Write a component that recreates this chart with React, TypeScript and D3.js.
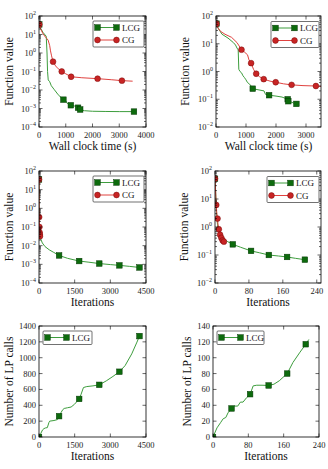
import { useEffect, useRef } from 'react'
import * as d3 from 'd3'

type Pt = [number, number]

// Function value against wall clock time, first problem
const lcgTimeA: Pt[] = [
  [10, 35], [60, 22], [150, 13], [270, 8], [300, 1], [320, 0.1], [345, 0.035], [400, 0.028],
  [460, 0.017], [560, 0.011], [700, 0.006], [800, 0.0042], [912, 0.003], [1000, 0.0026],
  [1050, 0.0019], [1190, 0.0015], [1300, 0.0014], [1380, 0.0013], [1460, 0.0011],
  [1500, 0.00095], [1540, 0.00088], [1700, 0.00076], [2000, 0.00071], [2500, 0.00069],
  [3000, 0.00068], [3550, 0.00068]
]
const lcgTimeAMarks: Pt[] = [[10, 35], [912, 0.003], [1190, 0.0015], [1460, 0.0011], [1540, 0.00088], [3550, 0.00068]]
const cgTimeA: Pt[] = [
  [10, 35], [60, 20], [150, 11], [250, 7], [340, 5], [400, 2.5], [430, 1.3], [470, 0.7],
  [525, 0.34], [620, 0.2], [720, 0.14], [850, 0.1], [1000, 0.075], [1200, 0.052],
  [1600, 0.046], [2190, 0.041], [2700, 0.036], [3100, 0.032], [3500, 0.03]
]
const cgTimeAMarks: Pt[] = [[10, 35], [525, 0.34], [850, 0.1], [1200, 0.052], [2190, 0.041], [3100, 0.032]]

// Function value against wall clock time, second problem
const lcgTimeB: Pt[] = [
  [15, 53], [80, 35], [200, 22], [400, 16], [580, 11], [650, 9], [700, 7], [740, 6],
  [760, 1.2], [800, 1.0], [850, 0.9], [900, 0.7], [950, 0.6], [1000, 0.5], [1050, 0.4],
  [1120, 0.35], [1170, 0.3], [1225, 0.24], [1400, 0.22], [1600, 0.2], [1650, 0.15],
  [1770, 0.14], [2000, 0.13], [2200, 0.12], [2390, 0.1], [2410, 0.085], [2500, 0.08],
  [2600, 0.072], [2680, 0.068]
]
const lcgTimeBMarks: Pt[] = [[15, 53], [1225, 0.24], [1770, 0.14], [2390, 0.1], [2410, 0.085], [2680, 0.068]]
const cgTimeB: Pt[] = [
  [15, 53], [60, 38], [150, 28], [300, 22], [520, 17], [700, 11], [850, 6.1], [950, 5],
  [1050, 4], [1100, 2.6], [1170, 2.0], [1250, 1.2], [1340, 0.83], [1450, 0.65],
  [1590, 0.53], [1800, 0.45], [1990, 0.41], [2250, 0.36], [2520, 0.33], [2900, 0.31],
  [3330, 0.3], [3700, 0.28]
]
const cgTimeBMarks: Pt[] = [[15, 53], [850, 6.1], [1170, 2.0], [1340, 0.83], [1590, 0.53], [1990, 0.41], [2520, 0.33], [3330, 0.3]]

// Function value against iterations, first problem
const lcgIterA: Pt[] = [
  [0, 35], [3, 5], [6, 0.3], [10, 0.06], [20, 0.035], [60, 0.025], [140, 0.014],
  [250, 0.009], [430, 0.006], [600, 0.0045], [845, 0.003], [1200, 0.0021], [1690, 0.0015],
  [2100, 0.0013], [2535, 0.0011], [3000, 0.00097], [3380, 0.00088], [3800, 0.00078],
  [4225, 0.00068]
]
const lcgIterAMarks: Pt[] = [[0, 35], [845, 0.003], [1690, 0.0015], [2535, 0.0011], [3380, 0.00088], [4225, 0.00068]]
const cgIterA: Pt[] = [[0, 35], [8, 0.34], [16, 0.1], [24, 0.052], [32, 0.041], [40, 0.032]]

// Function value against iterations, second problem
const lcgIterB: Pt[] = [
  [0, 53], [1, 30], [2, 12], [3, 5], [4, 2.5], [6, 1.2], [8, 0.85], [10, 0.65], [13, 0.52],
  [17, 0.42], [22, 0.35], [30, 0.3], [42, 0.24], [60, 0.19], [85, 0.14], [105, 0.12],
  [127, 0.1], [150, 0.092], [170, 0.085], [190, 0.076], [212, 0.068]
]
const lcgIterBMarks: Pt[] = [[0, 53], [42, 0.24], [85, 0.14], [127, 0.1], [170, 0.085], [212, 0.068]]
const cgIterB: Pt[] = [
  [0, 53], [1, 25], [2, 12], [3, 6.1], [4, 3.5], [5, 2.5], [6, 2.0], [7, 1.3], [9, 0.83],
  [12, 0.53], [15, 0.41], [18, 0.33], [21, 0.3], [23, 0.28]
]
const cgIterBMarks: Pt[] = [[0, 53], [3, 6.1], [6, 2.0], [9, 0.83], [12, 0.53], [15, 0.41], [18, 0.33], [21, 0.3]]

// LP oracle calls against iterations
const lpCallsA: Pt[] = [
  [0, 0], [70, 42], [150, 90], [210, 106], [280, 115], [350, 118], [420, 185], [450, 200],
  [630, 208], [780, 220], [845, 263], [920, 305], [1000, 345], [1060, 360], [1200, 369],
  [1350, 378], [1490, 412], [1690, 480], [1770, 539], [1870, 624], [2010, 636],
  [2270, 645], [2535, 658], [2830, 708], [3110, 764], [3380, 823], [3620, 900],
  [3900, 1048], [4120, 1197], [4225, 1273], [4270, 1300]
]
const lpCallsAMarks: Pt[] = [[0, 0], [845, 263], [1690, 480], [2535, 658], [3380, 823], [4225, 1273]]
const lpCallsB: Pt[] = [
  [0, 0], [9, 11.5], [17, 18], [23, 23], [29, 24.6], [34, 30.5], [42, 36], [48, 39], [56, 39],
  [62, 44], [68, 44], [76, 49.6], [84, 54], [91, 64.5], [99, 65.3], [111, 65.3], [126, 65],
  [138, 66.6], [150, 70.9], [162, 77], [168, 80], [181, 94], [197, 107], [210, 117], [217, 123]
]
const lpCallsBMarks: Pt[] = [[0, 0], [42, 36], [84, 54], [126, 65], [168, 80], [210, 117]]

const timeTicksA = [0, 1000, 2000, 3000, 4000]
const timeTicksB = [0, 1000, 2000, 3000]
const iterTicksA = [0, 1500, 3000, 4500]
const iterTicksB = [0, 80, 160, 240]
const lpTicksA = [0, 200, 400, 600, 800, 1000, 1200, 1400]
const lpTicksB = [0, 20, 40, 60, 80, 100, 120, 140]

const FONT = '"Liberation Serif", "DejaVu Serif", serif'
const GREEN = { line: '#3d9d3d', fill: '#0d6b0d', edge: '#063806', shape: 'square' as const }
const RED = { line: '#e0423f', fill: '#c82424', edge: '#7a0b0b', shape: 'circle' as const }

type Style = typeof GREEN | typeof RED
interface Series { name: string; line: Pt[]; marks: Pt[]; style: Style }
interface Panel {
  id: string
  box: [number, number, number, number] // left, right, top, bottom
  xDomain: [number, number]
  xTicks: number[]
  yDomain: [number, number]
  yLog: boolean
  yTicks: number[]
  xLabel: string
  yLabel: string
  yLabelX: number
  legend: [number, number, number] // x, y, width
  series: Series[]
}

const panels: Panel[] = [
  {
    id: 'a', box: [39, 146, 16, 127], xDomain: [0, 4000], xTicks: timeTicksA,
    yDomain: [1e-4, 1e2], yLog: true, yTicks: [-4, -3, -2, -1, 0, 1, 2],
    xLabel: 'Wall clock time (s)', yLabel: 'Function value', yLabelX: 12.5, legend: [93, 21, 51],
    series: [
      { name: 'LCG', line: lcgTimeA, marks: lcgTimeAMarks, style: GREEN },
      { name: 'CG', line: cgTimeA, marks: cgTimeAMarks, style: RED }
    ]
  },
  {
    id: 'b', box: [216, 321, 16, 127], xDomain: [0, 3500], xTicks: timeTicksB,
    yDomain: [1e-2, 1e2], yLog: true, yTicks: [-2, -1, 0, 1, 2],
    xLabel: 'Wall clock time (s)', yLabel: 'Function value', yLabelX: 189, legend: [271, 21.5, 48],
    series: [
      { name: 'LCG', line: lcgTimeB, marks: lcgTimeBMarks, style: GREEN },
      { name: 'CG', line: cgTimeB, marks: cgTimeBMarks, style: RED }
    ]
  },
  {
    id: 'c', box: [39, 146, 171, 283], xDomain: [0, 4500], xTicks: iterTicksA,
    yDomain: [1e-4, 1e2], yLog: true, yTicks: [-4, -3, -2, -1, 0, 1, 2],
    xLabel: 'Iterations', yLabel: 'Function value', yLabelX: 12.5, legend: [93, 176, 51],
    series: [
      { name: 'LCG', line: lcgIterA, marks: lcgIterAMarks, style: GREEN },
      { name: 'CG', line: cgIterA, marks: cgIterA, style: RED }
    ]
  },
  {
    id: 'd', box: [215, 321, 171, 283], xDomain: [0, 250], xTicks: iterTicksB,
    yDomain: [1e-2, 1e2], yLog: true, yTicks: [-2, -1, 0, 1, 2],
    xLabel: 'Iterations', yLabel: 'Function value', yLabelX: 187.5, legend: [267, 176.5, 52],
    series: [
      { name: 'LCG', line: lcgIterB, marks: lcgIterBMarks, style: GREEN },
      { name: 'CG', line: cgIterB, marks: cgIterBMarks, style: RED }
    ]
  },
  {
    id: 'e', box: [39, 146, 326, 437], xDomain: [0, 4500], xTicks: iterTicksA,
    yDomain: [0, 1400], yLog: false, yTicks: lpTicksA,
    xLabel: 'Iterations', yLabel: 'Number of LP calls', yLabelX: 12.5, legend: [43, 331, 49],
    series: [{ name: 'LCG', line: lpCallsA, marks: lpCallsAMarks, style: GREEN }]
  },
  {
    id: 'f', box: [213, 319, 326, 437], xDomain: [0, 240], xTicks: iterTicksB,
    yDomain: [0, 140], yLog: false, yTicks: lpTicksB,
    xLabel: 'Iterations', yLabel: 'Number of LP calls', yLabelX: 190.5, legend: [217, 331, 47],
    series: [{ name: 'LCG', line: lpCallsB, marks: lpCallsBMarks, style: GREEN }]
  }
]

type Sel = d3.Selection<SVGGElement, unknown, null, undefined>

function drawMarker(g: Sel, cx: number, cy: number, style: Style) {
  if (style.shape === 'square') {
    g.append('rect')
      .attr('x', cx - 2.8).attr('y', cy - 2.8)
      .attr('width', 5.6).attr('height', 5.6)
      .attr('fill', style.fill).attr('stroke', style.edge).attr('stroke-width', 0.5)
  } else {
    g.append('circle')
      .attr('cx', cx).attr('cy', cy).attr('r', 2.9)
      .attr('fill', style.fill).attr('stroke', style.edge).attr('stroke-width', 0.5)
  }
}

function drawPanel(svg: d3.Selection<SVGSVGElement, unknown, null, undefined>, p: Panel) {
  const [left, right, top, bottom] = p.box
  const x = d3.scaleLinear().domain(p.xDomain).range([left, right])
  const y = p.yLog
    ? d3.scaleLog().domain(p.yDomain).range([bottom, top])
    : d3.scaleLinear().domain(p.yDomain).range([bottom, top])

  const g = svg.append('g')
  const clipId = `clip-${p.id}`
  g.append('clipPath').attr('id', clipId)
    .append('rect').attr('x', left).attr('y', top).attr('width', right - left).attr('height', bottom - top)

  const plot = g.append('g').attr('clip-path', `url(#${clipId})`)
  const line = d3.line<Pt>().x(d => x(d[0])).y(d => y(d[1]))
  p.series.forEach(s => {
    plot.append('path').datum(s.line)
      .attr('d', line)
      .attr('fill', 'none')
      .attr('stroke', s.style.line)
      .attr('stroke-width', 1)
    s.marks.forEach(m => drawMarker(plot, x(m[0]), y(m[1]), s.style))
  })

  // frame
  g.append('rect')
    .attr('x', left).attr('y', top).attr('width', right - left).attr('height', bottom - top)
    .attr('fill', 'none').attr('stroke', '#000').attr('stroke-width', 0.8)

  const tick = (x1: number, y1: number, x2: number, y2: number) =>
    g.append('line').attr('x1', x1).attr('y1', y1).attr('x2', x2).attr('y2', y2)
      .attr('stroke', '#000').attr('stroke-width', 0.6)

  // x ticks point inward on top and bottom
  p.xTicks.forEach(t => {
    const px = x(t)
    tick(px, bottom, px, bottom - 3.5)
    tick(px, top, px, top + 3.5)
    g.append('text')
      .attr('x', px).attr('y', bottom + 10.5)
      .attr('text-anchor', 'middle')
      .style('font-family', FONT).style('font-size', '8.5px').style('fill', '#222')
      .text(t)
  })

  if (p.yLog) {
    const lo = p.yTicks[0]
    const hi = p.yTicks[p.yTicks.length - 1]
    for (let e = lo; e < hi; e++) {
      for (let k = 2; k <= 9; k++) {
        const py = y(k * Math.pow(10, e))
        tick(left, py, left + 2, py)
        tick(right, py, right - 2, py)
      }
    }
    p.yTicks.forEach(e => {
      const py = y(Math.pow(10, e))
      tick(left, py, left + 3.5, py)
      tick(right, py, right - 3.5, py)
      const label = g.append('text')
        .attr('x', left - 3).attr('y', py + 3)
        .attr('text-anchor', 'end')
        .style('font-family', FONT).style('font-size', '8.5px').style('fill', '#222')
      label.append('tspan').text('10')
      label.append('tspan').attr('dy', -4).style('font-size', '6px')
        .text(e < 0 ? `\u2212${-e}` : `${e}`)
    })
  } else {
    p.yTicks.forEach(t => {
      const py = y(t)
      tick(left, py, left + 3.5, py)
      tick(right, py, right - 3.5, py)
      g.append('text')
        .attr('x', left - 3).attr('y', py + 3)
        .attr('text-anchor', 'end')
        .style('font-family', FONT).style('font-size', '8.5px').style('fill', '#222')
        .text(t)
    })
  }

  // axis labels
  g.append('text')
    .attr('x', (left + right) / 2).attr('y', bottom + 22.5)
    .attr('text-anchor', 'middle')
    .style('font-family', FONT).style('font-size', '11.5px').style('fill', '#111')
    .text(p.xLabel)
  g.append('text')
    .attr('transform', `translate(${p.yLabelX}, ${(top + bottom) / 2}) rotate(-90)`)
    .attr('text-anchor', 'middle')
    .style('font-family', FONT).style('font-size', '11.5px').style('fill', '#111')
    .text(p.yLabel)

  // legend
  const [lx, ly, lw] = p.legend
  const rowH = 12.5
  const legend = g.append('g')
  legend.append('rect')
    .attr('x', lx).attr('y', ly).attr('width', lw).attr('height', rowH * p.series.length + 1)
    .attr('rx', 1)
    .attr('fill', '#fff').attr('stroke', '#333').attr('stroke-width', 0.7)
  p.series.forEach((s, i) => {
    const ry = ly + 6.5 + i * rowH
    legend.append('line')
      .attr('x1', lx + 4.5).attr('x2', lx + 23.5).attr('y1', ry).attr('y2', ry)
      .attr('stroke', s.style.line).attr('stroke-width', 1)
    drawMarker(legend, lx + 4.5, ry, s.style)
    drawMarker(legend, lx + 23.5, ry, s.style)
    legend.append('text')
      .attr('x', lx + 29).attr('y', ry + 3)
      .style('font-family', FONT).style('font-size', '9px').style('fill', '#111')
      .text(s.name)
  })
}

export default function App() {
  const svgRef = useRef<SVGSVGElement>(null)

  useEffect(() => {
    if (!svgRef.current) return
    const svg = d3.select(svgRef.current)
    svg.selectAll('*').remove()
    panels.forEach(p => drawPanel(svg, p))
  }, [])

  return (
    <svg
      ref={svgRef}
      width={328}
      height={469}
      style={{ position: 'absolute', left: 0, top: 0, background: '#fff' }}
    />
  )
}
